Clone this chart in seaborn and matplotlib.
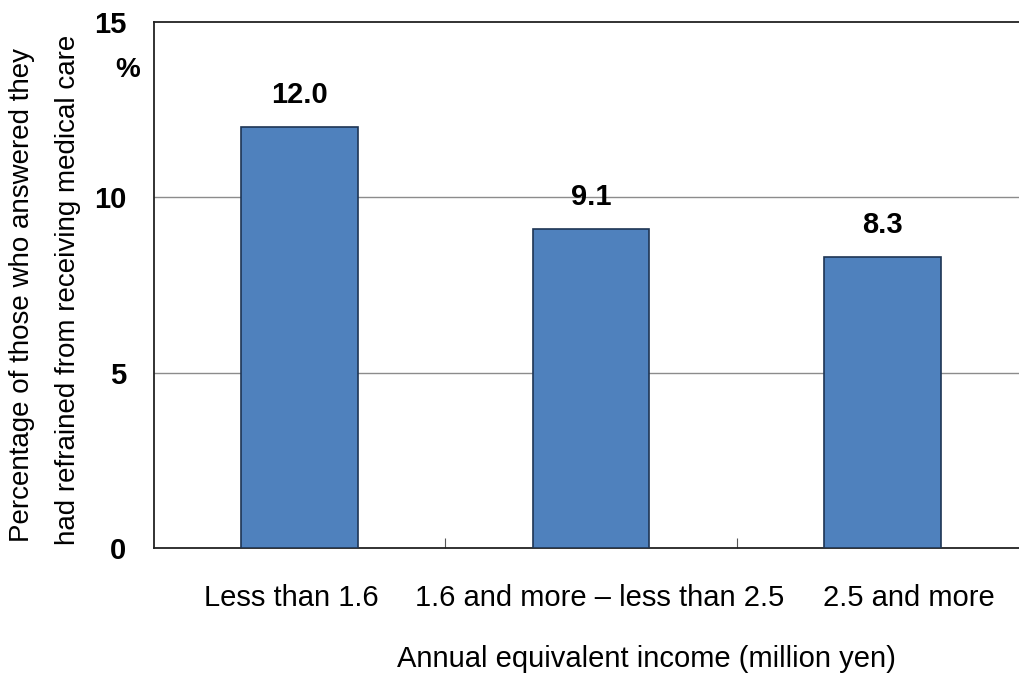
import matplotlib
matplotlib.use("Agg")
import matplotlib.pyplot as plt
import matplotlib.transforms as mtransforms
import seaborn as sns
import pandas as pd

categories = ["Less than 1.6", "1.6 and more \u2013 less than 2.5", "2.5 and more"]
values = [12.0, 9.1, 8.3]
value_labels = ["12.0", "9.1", "8.3"]
y_ticks = [0, 5, 10, 15]

sns.set_theme(style="white")
plt.rcParams['font.family'] = ['Liberation Sans', 'DejaVu Sans']
plt.rcParams['text.color'] = 'black'
plt.rcParams['xtick.color'] = 'black'
plt.rcParams['ytick.color'] = 'black'

df = pd.DataFrame({"cat": categories, "val": values})

fig = plt.figure(figsize=(10.19, 6.74), dpi=100)
ax = fig.add_axes([0.151, 0.187, 0.858, 0.780])

sns.barplot(data=df, x="cat", y="val", ax=ax, color="#4f81bd", saturation=1,
            width=0.40, edgecolor="#1e3554", linewidth=1.2, zorder=3)

ax.set_xlim(-0.5, 2.5)
ax.set_ylim(0, 15)
ax.set_yticks(y_ticks)
ax.set_yticklabels([str(t) for t in y_ticks], fontsize=21, fontweight="bold", color="black")
ax.tick_params(axis="y", length=0, pad=20)
ax.tick_params(axis="x", which="major", length=0, pad=26, labelsize=21, labelcolor="black")
ax.set_xticks([0.5, 1.5], minor=True)
ax.tick_params(axis="x", which="minor", bottom=True, direction="in", length=7, width=0.8,
               color="#555555")

# small horizontal nudges of the category labels (in pixels at 100 dpi)
label_shift_px = [-8, 9, 26]
for lab, dx in zip(ax.get_xticklabels(), label_shift_px):
    lab.set_transform(lab.get_transform() +
                      mtransforms.ScaledTranslation(dx / 100, 0, fig.dpi_scale_trans))

for y in [5, 10]:
    ax.axhline(y, color="#8c8c8c", linewidth=1.0, zorder=1)

for s in ["left", "bottom", "top"]:
    ax.spines[s].set_visible(True)
    ax.spines[s].set_color("#222222")
    ax.spines[s].set_linewidth(1.3)
ax.spines["right"].set_visible(False)

for i, (v, lab) in enumerate(zip(values, value_labels)):
    ax.annotate(lab, (i, v), xytext=(0, 23), textcoords="offset points",
                ha="center", va="center", fontsize=21, fontweight="bold", color="black")

ax.set_xlabel("")
ax.set_ylabel("")

fig.text(128 / 1019, 1 - 70 / 674, "%", ha="center", va="center", fontsize=20, fontweight="bold")
fig.text(22 / 1019, 1 - 295 / 674, "Percentage of those who answered they", rotation=90,
         ha="center", va="center", fontsize=20)
fig.text(68 / 1019, 1 - 290 / 674, "had refrained from receiving medical care", rotation=90,
         ha="center", va="center", fontsize=20)
fig.text(646 / 1019, 1 - 659 / 674, "Annual equivalent income (million yen)",
         ha="center", va="center", fontsize=21)

fig.savefig("out.png", dpi=100)
